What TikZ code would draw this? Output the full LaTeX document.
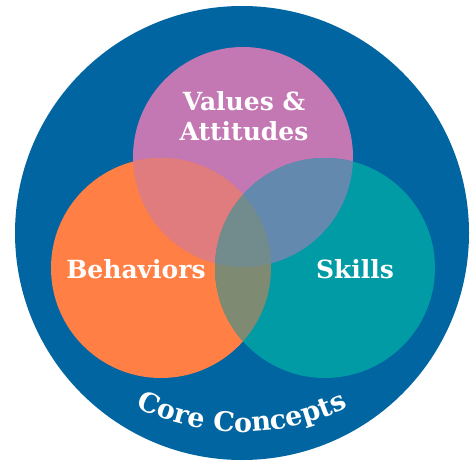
\documentclass[tikz,border=0pt]{standalone}
\usepackage{fontspec}
\setmainfont{DejaVu Serif}
\usetikzlibrary{decorations.text}

\definecolor{coreblue}{HTML}{0065A0}
\definecolor{valpink}{HTML}{C377B3}
\definecolor{behorange}{HTML}{FF7F45}
\definecolor{skillteal}{HTML}{009BA5}
\definecolor{vbmix}{HTML}{E07C7E}
\definecolor{vsmix}{HTML}{6489AF}
\definecolor{bsmix}{HTML}{7F8A72}
\definecolor{allmix}{HTML}{728B8C}

\tikzset{
	lbl/.style={text=white, font=\fontsize{25}{30}\selectfont\bfseries, inner sep=0pt},
}

\begin{document}
\begin{tikzpicture}[x=1pt, y=1pt]
	\useasboundingbox (0,0) rectangle (470,464);
	\fill[white] (0,0) rectangle (470,464);

	\coordinate (core) at (242, 231);
	\coordinate (val) at (243, 307);
	\coordinate (beh) at (161, 196);
	\coordinate (ski) at (325, 196);

	\fill[coreblue] (core) circle (227pt);
	\fill[valpink] (val) circle (110pt);
	\fill[behorange] (beh) circle (110pt);
	\fill[skillteal] (ski) circle (110pt);

	\begin{scope}
		\clip (val) circle (110pt);
		\fill[vbmix] (beh) circle (110pt);
		\fill[vsmix] (ski) circle (110pt);
	\end{scope}
	\begin{scope}
		\clip (beh) circle (110pt);
		\fill[bsmix] (ski) circle (110pt);
		\clip (val) circle (110pt);
		\fill[allmix] (ski) circle (110pt);
	\end{scope}

	\node[lbl, align=center] (values) at (244, 348) {Values \&\\Attitudes};
	\node[lbl, anchor=base] (behav) at (136, 186) {Behaviors};
	\node[lbl, anchor=base] (skills) at (355, 186) {Skills};

	\path[decorate, decoration={text along path, text align=center,
		text={|\fontsize{27}{27}\selectfont\bfseries\color{white}|Core Concepts}}]
		(242, 270) ++(232:238pt) arc[start angle=232, end angle=308, radius=238pt];
\end{tikzpicture}
\end{document}
